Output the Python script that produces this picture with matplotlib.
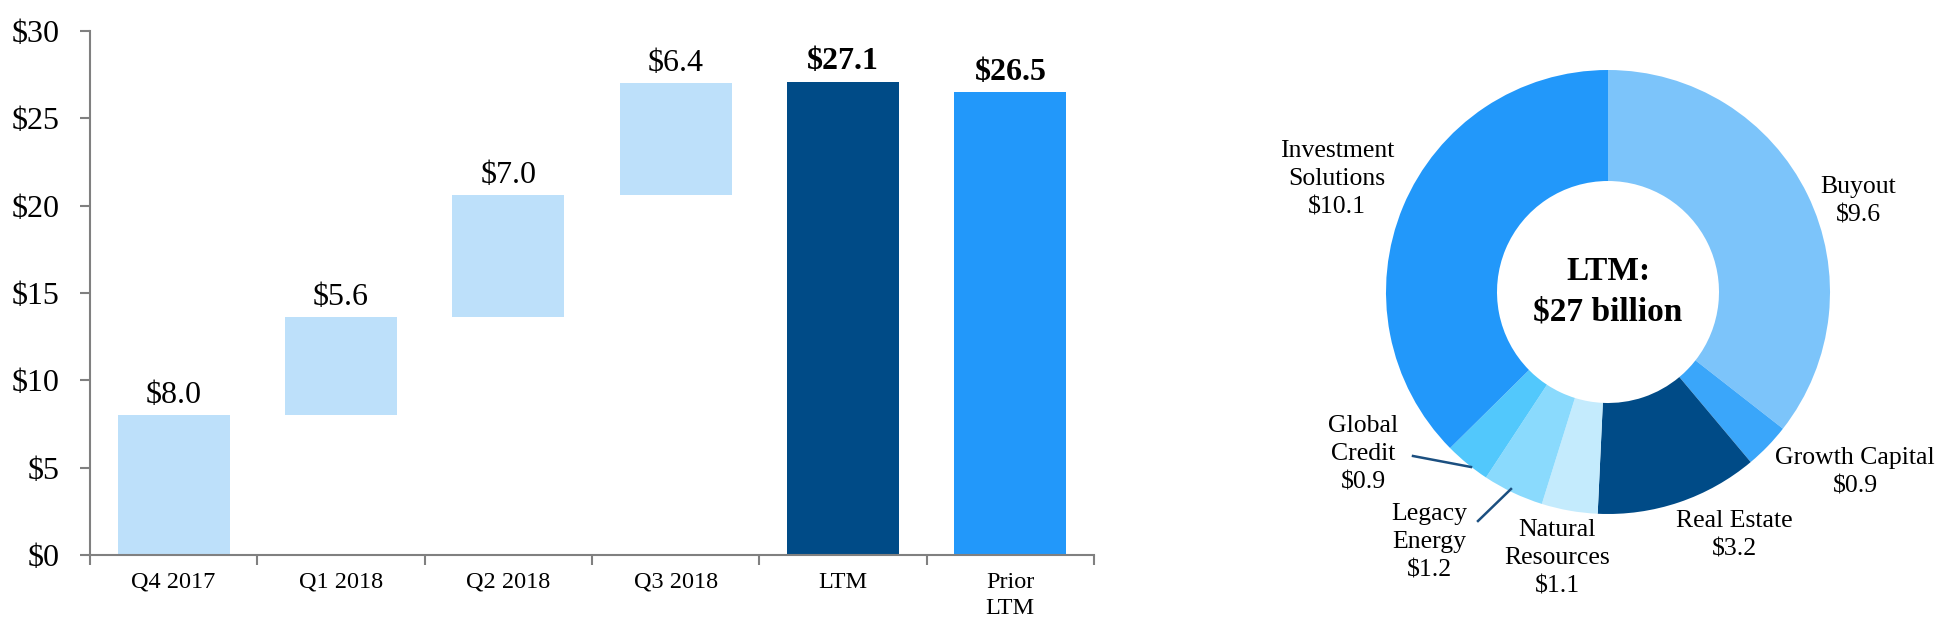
import matplotlib
matplotlib.use("Agg")
import matplotlib.pyplot as plt
import numpy as np

plt.rcParams['font.family'] = ['Liberation Serif', 'DejaVu Serif']

# ---- data ----
categories = ["Q4 2017", "Q1 2018", "Q2 2018", "Q3 2018", "LTM", "Prior\nLTM"]
increments = [8.0, 5.6, 7.0, 6.4]
totals = [27.1, 26.5]
value_labels = ["$8.0", "$5.6", "$7.0", "$6.4", "$27.1", "$26.5"]
yticks = [0, 5, 10, 15, 20, 25, 30]

segments = ["Buyout", "Growth Capital", "Real Estate", "Natural\nResources",
            "Legacy\nEnergy", "Global\nCredit", "Investment\nSolutions"]
segment_values = [9.6, 0.9, 3.2, 1.1, 1.2, 0.9, 10.1]
center_text = ["LTM:", "$27 billion"]

# ---- styles ----
c_light = "#BDE0FA"
c_ltm = "#004B87"
c_prior = "#2298FA"
pie_colors = ["#7CC4FA", "#3AA6FA", "#004B87", "#C4EBFD", "#8ADAFD", "#52C8FC", "#2298FA"]
spine_c = "#808080"

W, H = 1950, 637
fig = plt.figure(figsize=(W / 100, H / 100), dpi=100)

# ---- waterfall ----
L, R, T, B = 90, 1094, 31, 555
ax = fig.add_axes([L / W, 1 - B / H, (R - L) / W, (B - T) / H])
x = np.arange(len(categories))
bottoms = np.concatenate([[0], np.cumsum(increments)[:-1]])
heights = list(increments) + list(totals)
bots = list(bottoms) + [0, 0]
colors = [c_light] * 4 + [c_ltm, c_prior]
bw = 0.67
ax.bar(x, heights, bottom=bots, width=bw, color=colors, linewidth=0)
for i, (h, b, lab) in enumerate(zip(heights, bots, value_labels)):
    bold = i >= 4
    ax.annotate(lab, (x[i], h + b), xytext=(0, 4), textcoords="offset points",
                ha="center", va="bottom", fontsize=23,
                fontweight="bold" if bold else "normal")
ax.set_xlim(-0.5, len(categories) - 0.5)
ax.set_ylim(0, 30)
ax.set_yticks(yticks)
ax.set_yticklabels([f"${v}" for v in yticks], fontsize=23)
ax.set_xticks(x)
ax.set_xticklabels(categories, fontsize=17.5, linespacing=1.32, va="top")
ax.set_xticks(np.arange(-0.5, len(categories)), minor=True)
ax.tick_params(axis="x", which="major", length=0, pad=12)
ax.tick_params(axis="x", which="minor", length=7, width=1.5, color=spine_c, direction="out")
ax.tick_params(axis="y", length=7, width=1.5, color=spine_c, direction="out", pad=15)
for s in ["top", "right"]:
    ax.spines[s].set_visible(False)
for s in ["left", "bottom"]:
    ax.spines[s].set_color(spine_c)
    ax.spines[s].set_linewidth(1.5)

# ---- donut ----
cx, cy, rad = 1608, 292, 222
half = 300
ax2 = fig.add_axes([(cx - half) / W, 1 - (cy + half) / H, 2 * half / W, 2 * half / H])
ax2.pie(segment_values, colors=pie_colors, startangle=90, counterclock=False,
        radius=1, wedgeprops=dict(width=0.5, edgecolor="none", linewidth=0))
lim = half / rad
ax2.set_xlim(-lim, lim)
ax2.set_ylim(-lim, lim)
ax2.set_aspect("equal")
ax2.axis("off")

def px(xf, yf):
    return (xf - cx) / rad, (cy - yf) / rad

label_pos = [(1858, 201), (1855, 472), (1734, 535), (1557, 558),
             (1429, 542), (1363, 454), (1337, 179)]
for name, val, (xf, yf) in zip(segments, segment_values, label_pos):
    xd, yd = px(xf, yf)
    ax2.text(xd, yd, f"{name}\n${val:.1f}", ha="center", va="center",
             fontsize=18.5, linespacing=1.37, clip_on=False)

leaders = [((1413, 456), (1471, 467)), ((1478, 521), (1511, 489))]
for (a, b) in leaders:
    xa, ya = px(*a)
    xb, yb = px(*b)
    ax2.plot([xa, xb], [ya, yb], color="#1B4F80", lw=1.8, clip_on=False)

ax2.text(0, px(cx, 271)[1], center_text[0], ha="center", va="center",
         fontsize=24, fontweight="bold")
ax2.text(0, px(cx, 312)[1], center_text[1], ha="center", va="center",
         fontsize=24, fontweight="bold")

fig.savefig("out.png", dpi=100)
